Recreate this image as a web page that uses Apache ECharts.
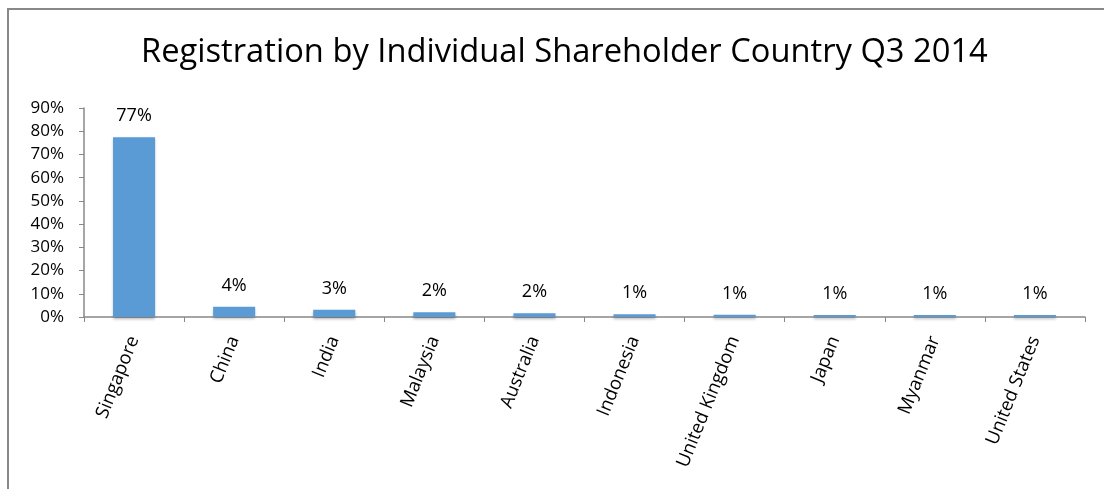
<!DOCTYPE html>
<html>
<head>
<meta charset="utf-8">
<script src="https://cdn.jsdelivr.net/npm/echarts@6/dist/echarts.min.js"></script>
<style>
  html, body { margin: 0; padding: 0; background: #fff; }
  #main { width: 1104px; height: 489px; }
</style>
</head>
<body>
<div id="main"></div>
<script>
var countries = ['Singapore', 'China', 'India', 'Malaysia', 'Australia',
  'Indonesia', 'United Kingdom', 'Japan', 'Myanmar', 'United States'];
var shares = [77.4, 4.4, 3.1, 2.0, 1.6, 1.2, 1.0, 0.9, 0.9, 0.9];
var yTicks = [0, 10, 20, 30, 40, 50, 60, 70, 80, 90];

var fontName = 'Open Sans';
var myChart = echarts.init(document.getElementById('main'));

var option = {
  animation: false,
  title: {
    text: 'Registration by Individual Shareholder Country Q3 2014',
    left: 136,
    top: 31,
    textStyle: { fontFamily: fontName, fontWeight: 'normal', fontSize: 32.7, color: '#000' }
  },
  graphic: [{
    type: 'polyline',
    shape: { points: [[8, 489], [8, 9], [1104, 9]] },
    style: { stroke: '#888', lineWidth: 2, fill: null }
  }],
  grid: { left: 84, right: 19, top: 108, bottom: 172 },
  xAxis: {
    type: 'category',
    data: countries,
    axisLine: { lineStyle: { color: '#888', width: 1.5 } },
    axisTick: { show: true, length: 5, lineStyle: { color: '#888' } },
    axisLabel: {
      rotate: 68, color: '#000', fontFamily: fontName, fontSize: 18.5, margin: 20
    }
  },
  yAxis: {
    type: 'value',
    min: yTicks[0],
    max: yTicks[yTicks.length - 1],
    interval: 10,
    splitLine: { show: false },
    axisLine: { show: true, lineStyle: { color: '#888', width: 1.5 } },
    axisTick: { show: true, length: 5, lineStyle: { color: '#888' } },
    axisLabel: {
      formatter: '{value}%', color: '#000', fontFamily: fontName, fontSize: 17, margin: 20
    }
  },
  series: [{
    type: 'bar',
    data: shares,
    barWidth: '42%',
    itemStyle: {
      color: '#5B9BD5',
      shadowColor: 'rgba(0,0,0,0.3)',
      shadowBlur: 3,
      shadowOffsetY: 2
    },
    label: {
      show: true,
      position: 'top',
      distance: 12,
      color: '#000',
      fontFamily: fontName,
      fontSize: 18,
      formatter: function (p) { return Math.round(p.value) + '%'; }
    }
  }]
};
myChart.setOption(option);
</script>
</body>
</html>
